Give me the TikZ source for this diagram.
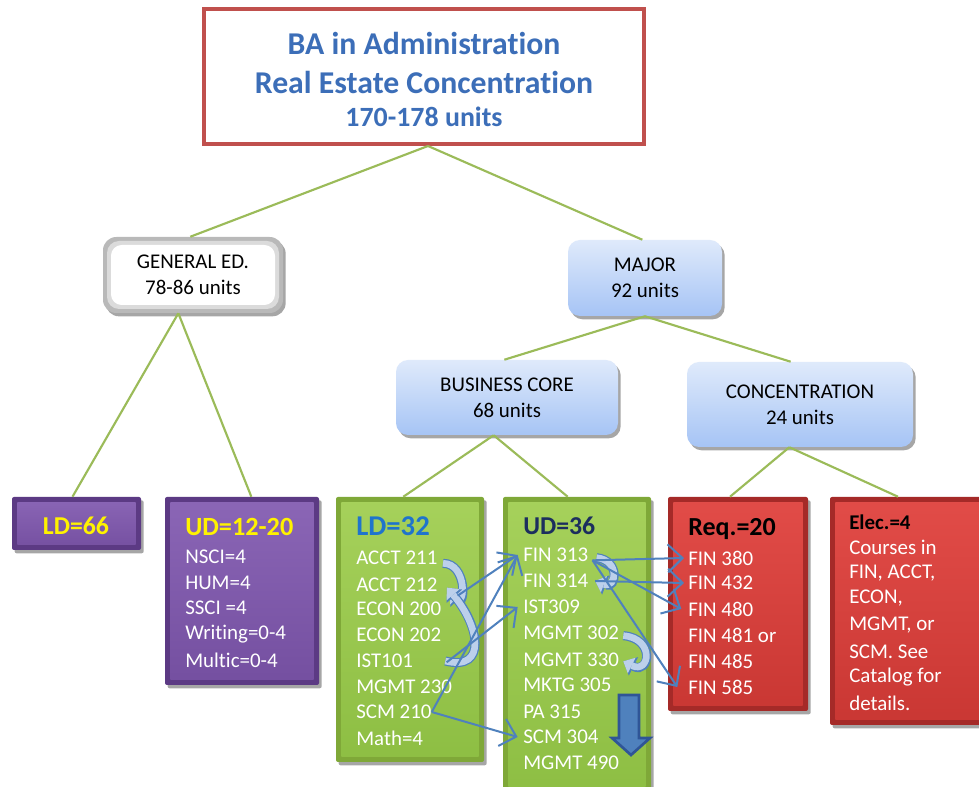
\documentclass[tikz,border=0pt]{standalone}
\usepackage{fontspec}
\setmainfont{Carlito}[RawFeature={-liga;-clig;-calt;-dlig}]
\usetikzlibrary{arrows.meta,shadows,calc}
\definecolor{connG}{HTML}{9BBB59}
\definecolor{titleRed}{HTML}{C0504D}
\definecolor{titleBlue}{HTML}{3C6EB8}
\definecolor{arrowBlue}{HTML}{4F81BD}
\definecolor{arrowDark}{HTML}{2F5597}
\definecolor{fatFill}{HTML}{BCD0EB}
\definecolor{ldBlue}{HTML}{1F74CC}
\definecolor{udNavy}{HTML}{1C2E5E}
\definecolor{gOut}{HTML}{7FA838}
\definecolor{gTop}{HTML}{A6D15B}
\definecolor{gBot}{HTML}{8DBE43}
\definecolor{pOut}{HTML}{5C3A84}
\definecolor{pTop}{HTML}{8B66B6}
\definecolor{pBot}{HTML}{744FA0}
\definecolor{rOut}{HTML}{A52A28}
\definecolor{rTop}{HTML}{E24C48}
\definecolor{rBot}{HTML}{C93733}
\definecolor{bTop}{HTML}{DFEAFB}
\definecolor{bBot}{HTML}{A6C4F5}
\newcommand\px[1]{#1*0.75pt}
\newcommand\fbody{\fontsize{15.7}{19}\selectfont}
\tikzset{
  conn/.style={draw=connG, line width=1.6pt},
  lbl/.style={inner sep=0pt, anchor=west, text=white, font=\fbody},
  headtxt/.style={inner sep=0pt, anchor=west, font=\bfseries\fontsize{#1}{#1}\selectfont},
  shad/.style={drop shadow={shadow xshift=2pt, shadow yshift=-2.5pt, opacity=0.35, fill=black}},
  cbox/.style n args={3}{rectangle, rounded corners=1.5pt, fill=#1, shad,
    path picture={\fill[top color=#2, bottom color=#3, sharp corners]
      ([shift={(4pt,-4pt)}]path picture bounding box.north west) rectangle
      ([shift={(-4pt,4pt)}]path picture bounding box.south east);}},
  gbox/.style={cbox={gOut}{gTop}{gBot}},
  pbox/.style={cbox={pOut}{pTop}{pBot}},
  rbox/.style={cbox={rOut}{rTop}{rBot}},
  bbox/.style={rectangle, rounded corners=9pt, top color=bTop, bottom color=bBot, shad,
    align=center, font=\fontsize{15.7}{19.5}\selectfont, text=black},
  wbox/.style={rectangle, rounded corners=10pt, fill=gray!55, shad,
    align=center, font=\fontsize{15.7}{19.5}\selectfont, text=black,
    path picture={
      \fill[gray!28, rounded corners=9pt]
        ([shift={(3pt,-3pt)}]path picture bounding box.north west) rectangle
        ([shift={(-3pt,3pt)}]path picture bounding box.south east);
      \fill[white, rounded corners=8pt]
        ([shift={(6pt,-6pt)}]path picture bounding box.north west) rectangle
        ([shift={(-6pt,6pt)}]path picture bounding box.south east);}},
  thin/.style={draw=arrowBlue, line width=1.5pt, -{Straight Barb[length=11pt,width=21pt]}},
  fat/.style={draw=fatFill, line width=5pt, -{Triangle[length=7pt,width=13pt,line width=0pt]},
    preaction={draw=arrowBlue, line width=6.8pt, -{Triangle[length=8.5pt,width=15.5pt,line width=0pt]}}},
}
\begin{document}
\begin{tikzpicture}[x=0.75pt,y=-0.75pt]
\useasboundingbox (0,0) rectangle (979,787);
\clip (0,0) rectangle (979,787);
\fill[white] (0,0) rectangle (979,787);

% ---------- boxes ----------
\node[rectangle, draw=titleRed, line width=3pt, fill=white,
      drop shadow={shadow xshift=1.5pt, shadow yshift=-1.5pt, opacity=0.2, fill=black},
      minimum width=\px{440}, minimum height=\px{135}] (title) at (424,76.5) {};
\node[wbox, minimum width=\px{180}, minimum height=\px{76}] (gened) at (193,275) {GENERAL ED.\\78-86 units};
\node[bbox, minimum width=\px{154}, minimum height=\px{76}] (major) at (645,278) {MAJOR\\92 units};
\node[bbox, minimum width=\px{222}, minimum height=\px{75}] (bcore) at (507,397.5) {BUSINESS CORE\\68 units};
\node[bbox, minimum width=\px{226}, minimum height=\px{85}] (conc) at (800,404.5) {CONCENTRATION\\24 units};

\node[pbox, minimum width=\px{129}, minimum height=\px{53}] (ld66) at (76.5,523.5) {};
\node[pbox, minimum width=\px{154}, minimum height=\px{188}] (ud1220) at (242,591) {};
\node[gbox, minimum width=\px{148}, minimum height=\px{265}] (ld32) at (410,629.5) {};
\node[gbox, minimum width=\px{148}, minimum height=\px{300}] (ud36) at (577,647) {};
\node[rbox, minimum width=\px{140}, minimum height=\px{214}] (req) at (738,604) {};
\node[rbox, minimum width=\px{160}, minimum height=\px{228}] (elec) at (910,611) {};

% ---------- title text ----------
\node[inner sep=0pt, text=titleBlue, font=\bfseries\fontsize{23.8}{24}\selectfont] (t1) at (424,43) {BA in Administration};
\node[inner sep=0pt, text=titleBlue, font=\bfseries\fontsize{23.8}{24}\selectfont] (t2) at (424,82) {Real Estate Concentration};
\node[inner sep=0pt, text=titleBlue, font=\bfseries\fontsize{20.9}{21}\selectfont] (t3) at (424,117) {170-178 units};

% ---------- connectors ----------
\draw[conn] ([xshift=3pt]title.south) -- ([xshift=-2pt]gened.north);
\draw[conn] ([xshift=3pt]title.south) -- ([xshift=-2pt]major.north);
\draw[conn] ([xshift=-11pt]gened.south) -- ([xshift=-3pt]ld66.north);
\draw[conn] ([xshift=-11pt]gened.south) -- ([xshift=7pt]ud1220.north);
\draw[conn] (major.south) -- ([xshift=-2pt]bcore.north);
\draw[conn] (major.south) -- ([xshift=-7pt]conc.north);
\draw[conn] ([xshift=-10pt]bcore.south) -- ([xshift=-5pt]ld32.north);
\draw[conn] ([xshift=-10pt]bcore.south) -- ([xshift=-7pt]ud36.north);
\draw[conn] ([xshift=-8pt]conc.south) -- ([xshift=-6pt]req.north);
\draw[conn] ([xshift=-8pt]conc.south) -- ([xshift=-9pt]elec.north);

% ---------- LD=66 ----------
\node[inner sep=0pt, text=yellow, font=\bfseries\fontsize{19.3}{20}\selectfont] (ld66t) at (76,526) {LD=66};

% ---------- UD=12-20 ----------
\node[headtxt=19.7, text=yellow] (ud1220t) at (185,527) {UD=12-20};
\node[lbl] (nsci) at (185,557) {NSCI=4};
\node[lbl] (hum) at (185,583) {HUM=4};
\node[lbl] (ssci) at (185,608) {SSCI =4};
\node[lbl] (writ) at (185,634) {Writing=0-4};
\node[lbl] (mult) at (185,660) {Multic=0-4};

% ---------- LD=32 ----------
\node[headtxt=21.5, text=ldBlue] (ld32t) at (356,526) {LD=32};
\node[lbl] (acct211) at (356,558) {ACCT 211};
\node[lbl] (acct212) at (356,585) {ACCT 212};
\node[lbl] (econ200) at (356,609) {ECON 200};
\node[lbl] (econ202) at (356,635) {ECON 202};
\node[lbl] (ist101) at (356,661) {IST101};
\node[lbl] (mgmt230) at (356,687) {MGMT 230};
\node[lbl] (scm210) at (356,712) {SCM 210};
\node[lbl] (math) at (356,738) {Math=4};

% ---------- UD=36 ----------
\node[headtxt=19.3, text=udNavy] (ud36t) at (523,526) {UD=36};
\node[lbl] (fin313) at (523,555) {FIN 313};
\node[lbl] (fin314) at (523,581) {FIN 314};
\node[lbl] (ist309) at (523,607) {IST309};
\node[lbl] (mgmt302) at (523,633) {MGMT 302};
\node[lbl] (mgmt330) at (523,660) {MGMT 330};
\node[lbl] (mktg305) at (523,685) {MKTG 305};
\node[lbl] (pa315) at (523,712) {PA 315};
\node[lbl] (scm304) at (523,737) {SCM 304};
\node[lbl] (mgmt490) at (523,763) {MGMT 490};

% ---------- Req.=20 ----------
\node[headtxt=19.5, text=black] (reqt) at (688,529) {Req.=20};
\node[lbl] (fin380) at (688,558) {FIN 380};
\node[lbl] (fin432) at (688,583) {FIN 432};
\node[lbl] (fin480) at (688,609) {FIN 480};
\node[lbl] (fin481) at (688,635) {FIN 481 or};
\node[lbl] (fin485) at (688,661) {FIN 485};
\node[lbl] (fin585) at (688,687) {FIN 585};

% ---------- Elec.=4 ----------
\node[headtxt=15.7, text=black] (elect) at (849,522) {Elec.=4};
\node[lbl] (e1) at (849,547) {Courses in};
\node[lbl] (e2) at (849,573) {FIN, ACCT,};
\node[lbl] (e3) at (849,598) {ECON,};
\node[lbl] (e4) at (849,625) {MGMT, or};
\node[lbl] (e5) at (849,652) {SCM. See};
\node[lbl] (e6) at (849,677) {Catalog for};
\node[lbl] (e7) at (849,703) {details.};

% ---------- fat curved arrows ----------
\draw[fat] ([shift={(4pt,-4pt)}]acct211.east) .. controls +(18pt,0pt) and +(12pt,-12pt) .. ([shift={(9pt,-5pt)}]acct212.east);
\draw[fat] ([shift={(24pt,0pt)}]ist101.east) .. controls +(32pt,-8pt) and +(24pt,-28pt) .. ([shift={(7pt,-2pt)}]acct212.east);
\draw[fat] ([shift={(6pt,-2pt)}]fin313.east) .. controls +(18pt,-2pt) and +(16pt,-6pt) .. ([shift={(5pt,0pt)}]fin314.east);
\draw[fat] ([shift={(3pt,-2pt)}]mgmt302.east) .. controls +(24pt,-2pt) and +(20pt,-10pt) .. ([shift={(3pt,-1pt)}]mgmt330.east);

% ---------- thin arrows ----------
\draw[thin] ([shift={(15pt,-8pt)}]acct212.east) -- ([xshift=-4pt]fin313.west);
\draw[thin] (scm210.east) -- ([xshift=-4pt]fin313.west);
\draw[thin] ([shift={(25pt,-1pt)}]ist101.east) -- ([xshift=-4pt]ist309.west);
\draw[thin] (scm210.east) -- ([xshift=-4pt]scm304.west);
\draw[thin] ([shift={(3pt,-4pt)}]fin313.east) -- ([xshift=-3pt]fin380.west);
\draw[thin] ([shift={(3pt,-4pt)}]fin313.east) -- ([xshift=-5pt]fin480.west);
\draw[thin] ([shift={(3pt,-4pt)}]fin313.east) -- ([xshift=-8pt]fin585.west);
\draw[thin] ([xshift=5pt]fin314.east) -- ([xshift=-3pt]fin432.west);

% ---------- big down arrow ----------
\draw[fill=arrowBlue, draw=arrowDark, line width=2pt, line join=miter]
  (619,695) -- (639,695) -- (639,738) -- (650,738) -- (631,755) -- (612,738) -- (619,738) -- cycle;
\end{tikzpicture}
\end{document}
